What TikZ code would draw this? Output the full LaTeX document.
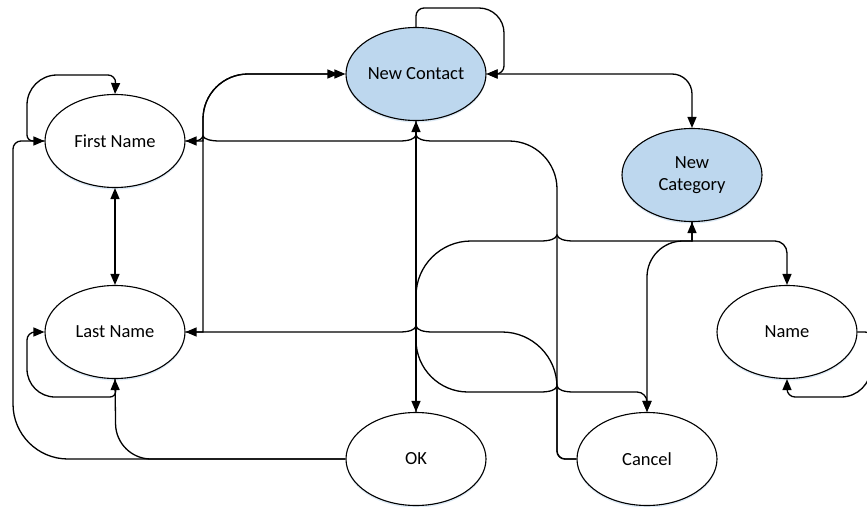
\documentclass[tikz,border=0pt]{standalone}
\usepackage{fontspec}
\setmainfont{Carlito}
\usetikzlibrary{arrows.meta,shapes.geometric,shadows}
\definecolor{cblue}{HTML}{BDD7EE}
\definecolor{glow}{HTML}{9DC3E6}
\begin{document}
\begin{tikzpicture}[x=1pt,y=-1pt,
  state/.style={ellipse,draw,line width=1.1pt,minimum width=140pt,minimum height=93pt,
    inner sep=0pt,fill=white,align=center,font=\fontsize{18.5}{22}\selectfont,
    drop shadow={shadow xshift=0pt,shadow yshift=-2pt,fill=glow,opacity=0.35}},
  hl/.style={state,fill=cblue},
  conn/.style={line width=1.3pt},
  tip/.style={-{Triangle[length=11pt,width=9pt]}},
  tips/.style={{Triangle[length=11pt,width=9pt]}-{Triangle[length=11pt,width=9pt]}}]
\useasboundingbox (0,0) rectangle (867,506);
% nodes
\node[state] (fn) at (115,141) {First Name};
\node[state] (ln) at (115,332) {Last Name};
\node[hl] (nc) at (416,74) {New Contact};
\node[hl] (cat) at (692,175) {New\\Category};
\node[state] (nm) at (787,332) {Name};
\node[state] (ok) at (416,459) {OK};
\node[state] (cn) at (647,459) {Cancel};
% First Name self loop
\draw[conn,tip] (fn.west) [rounded corners=6pt] -- (27,141) [rounded corners=30pt] -- (27,75) [rounded corners=8pt] -- (116,75) -- (fn.north);
% OK -> First Name
\draw[conn,tip] (ok.west) [rounded corners=55pt] -- (13,459) [rounded corners=8pt] -- (13,141) -- (fn.west);
% OK -> Last Name
\draw[conn,tip,rounded corners=35pt] (ok.west) -- (116,459) -- (ln.south);
% Last Name self loop
\draw[conn,tip] (ln.south) [rounded corners=6pt] -- (116,397) [rounded corners=28pt] -- (27,397) [rounded corners=8pt] -- (27,332) -- (ln.west);
% First Name <-> Last Name
\draw[conn,tips] (fn.south) -- (ln.north);
% First/Last Name -> New Contact
\draw[conn,tip] (fn.east) [sharp corners] -- (203,141) [rounded corners=45pt] -- (203,74) -- (nc.west);
\draw[conn,tip,shorten >=7pt] (ln.east) [sharp corners] -- (203,332) [rounded corners=45pt] -- (203,74) -- (nc.west);
% Cancel -> First Name
\draw[conn,tip] (cn.west) [rounded corners=8pt] -- (557,459) [rounded corners=48pt] -- (557,141) [sharp corners] -- (433,141)
  .. controls (423,141) and (417,139) .. (416,135) .. controls (415,139) and (409,141) .. (399,141)
  -- (220,141) .. controls (210,141) and (204,139) .. (203,136) .. controls (202,139) and (199,141) .. (194,141) -- (fn.east);
% Cancel -> Last Name
\draw[conn,tip] (cn.west) [rounded corners=8pt] -- (557,459) [rounded corners=55pt] -- (557,332) [sharp corners] -- (433,332)
  .. controls (423,332) and (417,330) .. (416,326) .. controls (415,330) and (409,332) .. (399,332) -- (ln.east);
% OK <-> New Contact
\draw[conn,tips] (ok.north) -- (nc.south);
% OK -> New Category
\draw[conn,tip] (ok.north) [rounded corners=55pt] -- (416,241) [sharp corners] -- (540,241)
  .. controls (550,241) and (556,239) .. (557,235) .. controls (558,239) and (564,241) .. (574,241)
  -- (692,241) -- (cat.south);
% New Category -> Name
\draw[conn,tip] (cat.south) [sharp corners] -- (692,241) [rounded corners=12pt] -- (787,241) -- (nm.north);
% New Category -> Cancel
\draw[conn,tip] (cat.south) [sharp corners] -- (692,241) [rounded corners=36pt] -- (647,241) -- (cn.north);
% New Contact -> Cancel
\draw[conn,tip] (nc.south) [rounded corners=52pt] -- (416,392) [sharp corners] -- (540,392)
  .. controls (550,392) and (556,390) .. (557,386) .. controls (558,390) and (564,392) .. (574,392)
  [rounded corners=10pt] -- (647,392) -- (cn.north);
% New Contact self loop
\draw[conn,tip] (nc.north) [rounded corners=8pt] -- (416,8) [rounded corners=25pt] -- (504,8) [rounded corners=8pt] -- (504,74) -- (nc.east);
% New Contact <-> New Category
\draw[conn,tips,rounded corners=20pt] (nc.east) -- (692,74) -- (cat.north);
% Name self loop
\draw[conn,tip] (nm.east) [rounded corners=6pt] -- (871,332) [rounded corners=30pt] -- (871,397) [rounded corners=8pt] -- (787,397) -- (nm.south);
\end{tikzpicture}
\end{document}
